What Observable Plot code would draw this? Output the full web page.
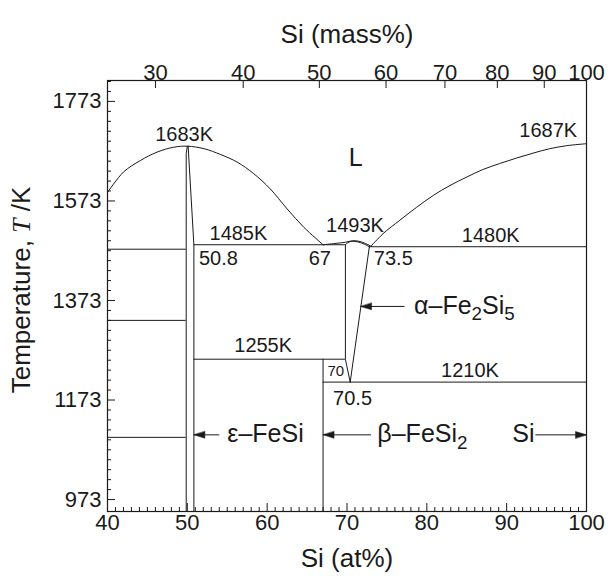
<!DOCTYPE html>
<html><head><meta charset="utf-8">
<script src="https://cdn.jsdelivr.net/npm/d3@7"></script>
<script src="https://cdn.jsdelivr.net/npm/@observablehq/plot@0.6"></script>
<style>body{margin:0;background:#fff}</style>
</head><body><div id="chart"></div>
<script>
// ---- data ----
const xTicks = [40, 50, 60, 70, 80, 90, 100];          // Si at%
const massTicks = [30, 40, 50, 60, 70, 80, 90, 100];   // Si mass%
const yTicks = [973, 1173, 1373, 1573, 1773];          // K

const liquidusLeft = [[40,1590],[42,1631],[44.1,1654],[46.2,1671],[48.3,1681],[50,1683],[52.1,1678],[54.2,1666],[56.25,1651],[58.3,1628],[60.4,1597],[62.5,1557],[64.6,1520],[67,1485]];
const liquidusRight = [[73.0,1482],[74.5,1507],[76.6,1534],[78.7,1560],[80.8,1584],[82.9,1604],[85,1621],[87,1636],[89.1,1648],[91.2,1659],[93.3,1669],[95.4,1678],[97.5,1684],[100,1688]];
const liquidusMid = [[67,1485],[68.5,1487.5],[69.8,1490],[70.7,1493],[71.5,1492],[72.3,1487.5],[73.0,1482]];
const solidusAlpha = [[69.8,1485],[70.1,1489],[70.6,1492],[71.4,1490.5],[72.2,1486],[72.8,1481]];

const boundaries = [
  {id:"eps-left",  pts:[[49.86,949],[49.86,1668],[50,1683]]},
  {id:"eps-right", pts:[[50.82,949],[50.82,1485],[50.1,1683]]},
  {id:"beta-left", pts:[[67,949],[67,1255]]},
  {id:"alpha-left",pts:[[69.8,1485],[69.8,1255],[70.4,1209]]},
  {id:"alpha-right",pts:[[72.8,1481],[70.4,1209]]}
];

const isotherms = [
  {x1:40, x2:49.86, T:1476},
  {x1:40, x2:49.86, T:1333},
  {x1:40, x2:49.86, T:1098},
  {x1:50.82, x2:69.8, T:1485},
  {x1:72.8, x2:100, T:1481},
  {x1:50.82, x2:69.8, T:1255},
  {x1:67, x2:100, T:1209}
];

const numLabels = [
  {x:49.6, T:1706, text:"1683K"},
  {x:95.2, T:1714, text:"1687K"},
  {x:56.4, T:1507, text:"1485K"},
  {x:71.0, T:1523, text:"1493K"},
  {x:88.0, T:1503, text:"1480K"},
  {x:53.9, T:1457, text:"50.8"},
  {x:66.6, T:1457, text:"67"},
  {x:75.8, T:1457, text:"73.5"},
  {x:59.5, T:1282, text:"1255K"},
  {x:85.4, T:1232, text:"1210K"},
  {x:70.7, T:1175, text:"70.5"}
];
const smallLabels = [{x:68.6, T:1231, text:"70"}];
const bigLabels = [{x:71.1, T:1660, text:"L"}];
const phaseLabels = [
  {x:78.4, T:1362, text:"α–Fe2Si5"},
  {x:55.0, T:1104, text:"ε–FeSi"},
  {x:73.8, T:1104, text:"β–FeSi2"},
  {x:90.7, T:1104, text:"Si"}
];
const arrows = [
  {from:54.0, to:50.82, T:1103},
  {from:73.0, to:67.0, T:1103},
  {from:93.6, to:100, T:1103},
  {from:77.2, to:71.7, T:1361}
];

// ---- layout ----
const W = 610, H = 579, mL = 107, mR = 24, mT = 80, mB = 68;
const plotW = W - mL - mR, plotH = H - mT - mB;
const ink = "#1a1a1a";
const font = "'Liberation Sans', Arial, Helvetica, sans-serif";

// mass% -> at% (Fe 55.845, Si 28.0855)
const toAt = w => 100 * (w / 28.0855) / (w / 28.0855 + (100 - w) / 55.845);

const xMinor = d3.range(41, 100).filter(d => d % 10 !== 0);
const yMinor = d3.range(973, 1815, 20).filter(d => !yTicks.includes(d));

const headShape = {
  draw(ctx, l, r) {
    ctx.moveTo(0, -l);
    ctx.lineTo(-3.4, -l + 11);
    ctx.lineTo(3.4, -l + 11);
    ctx.closePath();
  }
};

const chart = Plot.plot({
  width: W, height: H,
  marginLeft: mL, marginRight: mR, marginTop: mT, marginBottom: mB,
  x: {domain: [40, 100], axis: null},
  y: {domain: [949, 1815], axis: null},
  style: {fontFamily: font, color: ink, background: "#fff"},
  marks: [
    // ticks (inward)
    Plot.tickX(xMinor, {x: d => d, insetTop: plotH - 4, stroke: ink, strokeWidth: 1}),
    Plot.tickX(xTicks, {x: d => d, insetTop: plotH - 8, stroke: ink, strokeWidth: 1}),
    Plot.tickX(massTicks, {x: toAt, insetBottom: plotH - 8, stroke: ink, strokeWidth: 1}),
    Plot.tickY(yMinor, {y: d => d, insetRight: plotW - 4, stroke: ink, strokeWidth: 1}),
    Plot.tickY(yTicks, {y: d => d, insetRight: plotW - 8, stroke: ink, strokeWidth: 1}),
    // tick labels
    Plot.text(xTicks, {x: d => d, text: d => String(d), frameAnchor: "bottom", dy: 18, fontSize: 22, fill: ink}),
    Plot.text(massTicks, {x: toAt, text: d => String(d), frameAnchor: "top", dy: -16, fontSize: 22, fill: ink}),
    Plot.text(yTicks, {y: d => d, text: d => String(d), frameAnchor: "left", textAnchor: "end", dx: -6, fontSize: 22, fill: ink}),
    // axis titles
    Plot.text(["Si (at%)"], {text: d => d, frameAnchor: "bottom", dy: 55, fontSize: 26, fill: ink}),
    Plot.text(["Si (mass%)"], {text: d => d, frameAnchor: "top", dy: -56, fontSize: 26, fill: ink}),
    Plot.text(["Temperature, T /K"], {text: d => d, frameAnchor: "left", textAnchor: "middle", rotate: -90,
      dx: -86, dy: -6, fontSize: 26, fill: ink}),
    // phase boundaries
    Plot.line(liquidusLeft, {curve: "catmull-rom", stroke: ink, strokeWidth: 1}),
    Plot.line(liquidusRight, {curve: "catmull-rom", stroke: ink, strokeWidth: 1}),
    Plot.line(liquidusMid, {curve: "catmull-rom", stroke: ink, strokeWidth: 1}),
    Plot.line(solidusAlpha, {curve: "catmull-rom", stroke: ink, strokeWidth: 1}),
    Plot.line(boundaries.flatMap(b => b.pts.map(p => ({id: b.id, x: p[0], y: p[1]}))),
      {x: "x", y: "y", z: "id", stroke: ink, strokeWidth: 1}),
    Plot.ruleY(isotherms, {y: "T", x1: "x1", x2: "x2", stroke: ink, strokeWidth: 1}),
    // arrows
    Plot.link(arrows, {x1: "from", x2: "to", y1: "T", y2: "T", stroke: ink, strokeWidth: 1}),
    Plot.vector(arrows, {x: "to", y: "T", length: 11, anchor: "end", rotate: d => d.to < d.from ? -90 : 90,
      shape: headShape, fill: ink, stroke: ink, strokeWidth: 0.5}),
    // labels
    Plot.text(numLabels, {x: "x", y: "T", text: "text", fontSize: 20, fill: ink}),
    Plot.text(smallLabels, {x: "x", y: "T", text: "text", fontSize: 15, fill: ink}),
    Plot.text(bigLabels, {x: "x", y: "T", text: "text", fontSize: 25, fill: ink}),
    Plot.text(phaseLabels, {x: "x", y: "T", text: "text", textAnchor: "start", fontSize: 25, fill: ink}),
    Plot.frame({stroke: ink, strokeWidth: 1.2})
  ]
});

// rich text: subscripts / italic symbol
const NS = "http://www.w3.org/2000/svg";
const rich = {
  "α–Fe2Si5": [{t:"α–Fe"},{t:"2",sub:true},{t:"Si"},{t:"5",sub:true}],
  "β–FeSi2": [{t:"β–FeSi"},{t:"2",sub:true}],
  "Temperature, T /K": [{t:"Temperature, "},{t:"T",it:true},{t:" /K"}]
};
chart.querySelectorAll("text").forEach(el => {
  const parts = rich[el.textContent];
  if (!parts) return;
  const fs = parseFloat(el.closest("g").getAttribute("font-size")) || 24;
  el.textContent = "";
  let shifted = false;
  for (const p of parts) {
    const ts = document.createElementNS(NS, "tspan");
    ts.textContent = p.t;
    if (p.sub) {
      ts.setAttribute("font-size", (fs * 0.75).toFixed(1));
      ts.setAttribute("dy", (fs * 0.26).toFixed(1));
      shifted = true;
    } else if (shifted) {
      ts.setAttribute("dy", (-fs * 0.26).toFixed(1));
      shifted = false;
    }
    if (p.it) {
      ts.setAttribute("font-family", "'Liberation Serif', 'Times New Roman', serif");
      ts.setAttribute("font-style", "italic");
    }
    el.appendChild(ts);
  }
});

document.getElementById("chart").appendChild(chart);
</script>
</body></html>
